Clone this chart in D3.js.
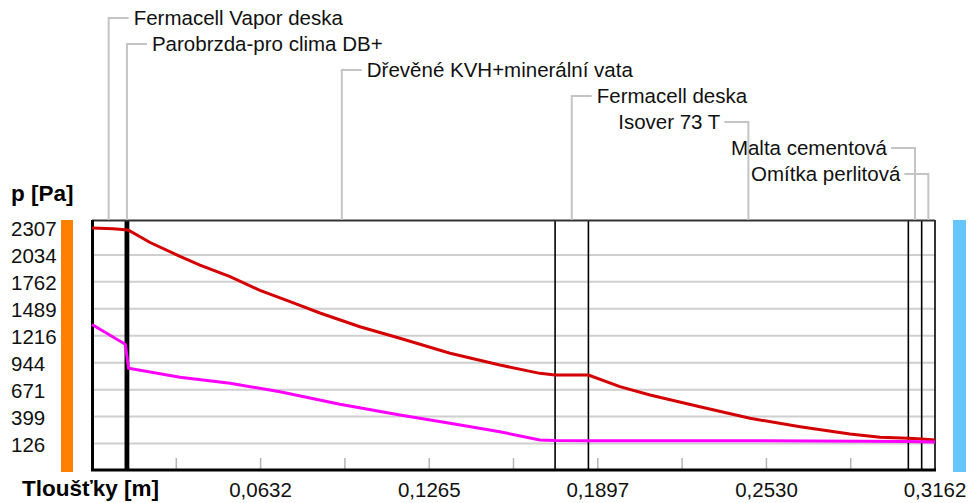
<!DOCTYPE html>
<html>
<head>
<meta charset="utf-8">
<script src="https://cdnjs.cloudflare.com/ajax/libs/d3/7.8.5/d3.min.js"></script>
<style>
  body { margin: 0; background: #fff; }
  svg { display: block; font-family: 'Liberation Sans', Arial, sans-serif; }
</style>
</head>
<body>
<svg></svg>
<script>
const width = 971;
const height = 503;

// wall layers, interior -> exterior, thickness in m
const layerNames = [
  'Fermacell Vapor deska',
  'Parobrzda-pro clima DB+',
  'Dřevěné KVH+minerální vata',
  'Fermacell deska',
  'Isover 73 T',
  'Malta cementová',
  'Omítka perlitová',
];
const layerThickness = [0.0125, 0.0012, 0.16, 0.0125, 0.12, 0.005, 0.005];

// saturated vapour pressure (red), position in m / value in Pa
const satPos = [0, 0.0079, 0.0125, 0.0137, 0.0218, 0.0330, 0.0405, 0.0518, 0.0630, 0.0743,
                0.0855, 0.1005, 0.1155, 0.1343, 0.1530, 0.1680, 0.1737, 0.1862, 0.1980,
                0.2093, 0.2280, 0.2468, 0.2656, 0.2843, 0.2956, 0.3062, 0.3112, 0.3162];
const satPressure = [2307, 2300, 2290, 2285, 2160, 2020, 1932, 1814, 1675, 1561,
                     1447, 1308, 1191, 1039, 920, 836, 819, 819, 701,
                     617, 498, 381, 296, 222, 189, 179, 172, 161];

// partial vapour pressure (magenta)
const partPos = [0, 0.0125, 0.0137, 0.0330, 0.0518, 0.0705, 0.0930, 0.1155, 0.1343,
                 0.1530, 0.1680, 0.1737, 0.1862, 0.2500, 0.3062, 0.3112, 0.3162];
const partPressure = [1330, 1130, 887, 796, 735, 650, 523, 414, 330,
                      245, 161, 156, 155, 153, 146, 143, 140];

const yTicks = [126, 399, 671, 944, 1216, 1489, 1762, 2034, 2307];
const xTickValues = [0.0632, 0.1265, 0.1897, 0.2530, 0.3162];
const xTickLabels = ['0,0632', '0,1265', '0,1897', '0,2530', '0,3162'];

const plot = { left: 92, right: 935, top: 220, bottom: 470 };

const svg = d3.select('svg')
              .attr('width', width)
              .attr('height', height);

const x = d3.scaleLinear()
            .domain([0, d3.sum(layerThickness)])
            .range([plot.left, plot.right]);

const y = d3.scaleLinear()
            .domain([yTicks[0], yTicks[yTicks.length - 1]])
            .range([443.5, 228]);

// layer boundaries (cumulative) and middles for the leader lines
const bounds = [0];
layerThickness.forEach(t => bounds.push(bounds[bounds.length - 1] + t));
const layers = layerNames.map((name, i) => ({
  name,
  start: bounds[i],
  end: bounds[i + 1],
  mid: (bounds[i] + bounds[i + 1]) / 2,
  row: i,
}));

// temperature bars on both sides
svg.append('rect')
   .attr('x', 61).attr('y', plot.top)
   .attr('width', 12).attr('height', plot.bottom - plot.top + 2)
   .attr('fill', '#ff8000');
svg.append('rect')
   .attr('x', 953).attr('y', plot.top)
   .attr('width', 13).attr('height', plot.bottom - plot.top + 2)
   .attr('fill', '#66c4ff');

// horizontal grid
svg.selectAll('line.grid')
   .data(yTicks.slice(0, -1))
   .enter()
   .append('line')
     .attr('class', 'grid')
     .attr('x1', plot.left).attr('x2', plot.right)
     .attr('y1', d => y(d)).attr('y2', d => y(d))
     .attr('stroke', '#cfcfcf')
     .attr('stroke-width', 2);

// small x ticks along the bottom
const tickStep = x.domain()[1] / 10;
svg.selectAll('line.xtick')
   .data(d3.range(1, 10).map(k => k * tickStep))
   .enter()
   .append('line')
     .attr('class', 'xtick')
     .attr('x1', d => x(d)).attr('x2', d => x(d))
     .attr('y1', plot.bottom - 12).attr('y2', plot.bottom)
     .attr('stroke', '#b4b4b4')
     .attr('stroke-width', 1.5);

// very thin layers (membranes) are drawn as a solid black band
svg.selectAll('rect.membrane')
   .data(layers.filter(d => d.end - d.start < 0.002))
   .enter()
   .append('rect')
     .attr('class', 'membrane')
     .attr('x', d => x(d.start))
     .attr('width', d => x(d.end) - x(d.start))
     .attr('y', plot.top)
     .attr('height', plot.bottom - plot.top)
     .attr('fill', '#000');

// layer boundary lines
svg.selectAll('line.bound')
   .data(bounds.slice(1))
   .enter()
   .append('line')
     .attr('class', 'bound')
     .attr('x1', d => x(d)).attr('x2', d => x(d))
     .attr('y1', plot.top).attr('y2', plot.bottom)
     .attr('stroke', '#000')
     .attr('stroke-width', 1.6);

// frame: top, left, bottom
svg.append('line')
   .attr('x1', plot.left).attr('x2', plot.right)
   .attr('y1', plot.top + 0.5).attr('y2', plot.top + 0.5)
   .attr('stroke', '#333').attr('stroke-width', 2);
svg.append('line')
   .attr('x1', plot.left + 0.5).attr('x2', plot.left + 0.5)
   .attr('y1', plot.top).attr('y2', plot.bottom + 1)
   .attr('stroke', '#000').attr('stroke-width', 3);
svg.append('line')
   .attr('x1', plot.left - 1).attr('x2', plot.right + 1)
   .attr('y1', plot.bottom).attr('y2', plot.bottom)
   .attr('stroke', '#000').attr('stroke-width', 3);

// pressure curves
const line = d3.line()
               .x(d => x(d[0]))
               .y(d => y(d[1]));

svg.append('path')
   .datum(d3.zip(satPos, satPressure))
   .attr('d', line)
   .attr('fill', 'none')
   .attr('stroke', '#d40000')
   .attr('stroke-width', 3);

svg.append('path')
   .datum(d3.zip(partPos, partPressure))
   .attr('d', line)
   .attr('fill', 'none')
   .attr('stroke', '#ff00ff')
   .attr('stroke-width', 3);

// layer labels with leader lines; labels past 0.2 m go to the left of their leader
const rowY = i => 18 + 26 * i;
const leaders = svg.selectAll('g.leader')
                   .data(layers)
                   .enter()
                   .append('g')
                     .attr('class', 'leader');

leaders.append('polyline')
       .attr('points', d => {
         const mx = x(d.mid);
         const hx = d.mid > 0.2 ? mx - 24 : mx + 20;
         return `${mx},${plot.top} ${mx},${rowY(d.row)} ${hx},${rowY(d.row)}`;
       })
       .attr('fill', 'none')
       .attr('stroke', '#c4c4c4')
       .attr('stroke-width', 2);

leaders.append('text')
       .attr('x', d => d.mid > 0.2 ? x(d.mid) - 28 : x(d.mid) + 25)
       .attr('y', d => rowY(d.row) + 7)
       .attr('text-anchor', d => d.mid > 0.2 ? 'end' : 'start')
       .attr('font-size', '20.5px')
       .attr('fill', '#111')
       .text(d => d.name);

// y tick labels
svg.selectAll('text.ylab')
   .data(yTicks)
   .enter()
   .append('text')
     .attr('class', 'ylab')
     .attr('x', 11)
     .attr('y', d => y(d) + 8)
     .attr('font-size', '20.5px')
     .attr('fill', '#111')
     .text(d => d);

// x tick labels
svg.selectAll('text.xlab')
   .data(xTickValues)
   .enter()
   .append('text')
     .attr('class', 'xlab')
     .attr('x', d => x(d))
     .attr('y', 497)
     .attr('text-anchor', 'middle')
     .attr('font-size', '20.5px')
     .attr('fill', '#111')
     .text((d, i) => xTickLabels[i]);

// axis titles
svg.append('text')
   .attr('x', 11).attr('y', 201)
   .attr('font-size', '22.5px')
   .attr('font-weight', 'bold')
   .text('p [Pa]');
svg.append('text')
   .attr('x', 22).attr('y', 496)
   .attr('font-size', '22.5px')
   .attr('font-weight', 'bold')
   .text('Tloušťky [m]');
</script>
</body>
</html>
